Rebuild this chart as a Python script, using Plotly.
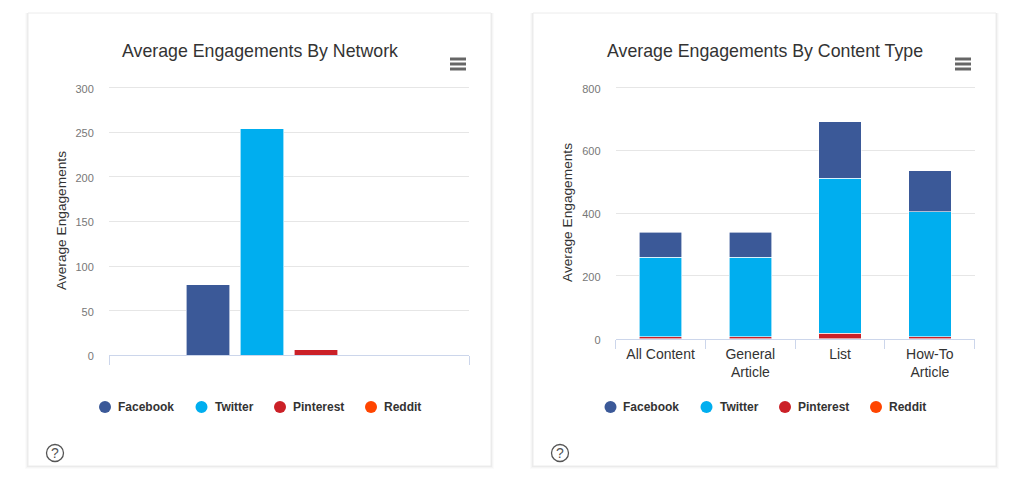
import plotly.graph_objects as go

W = 1024
H = 482

series_names = ["Facebook", "Twitter", "Pinterest", "Reddit"]
series_colors = ["#3b5998", "#00aeef", "#cb2027", "#ff4500"]

# left chart, one value per network
network_values = [79, 254, 6, 0]

# right chart, stacked by content type
content_types = ["All Content", "General<br>Article", "List", "How-To<br>Article"]
facebook_values = [79, 79, 181, 130]
twitter_values = [254, 254, 493, 399]
pinterest_values = [6, 6, 18, 6]
reddit_values = [0, 0, 0, 0]
content_values = [facebook_values, twitter_values, pinterest_values, reddit_values]

network_ticks = [-1.83, 4.83]
network_yticks = [0, 50, 100, 150, 200, 250, 300]
content_yticks = [0, 200, 400, 600, 800]

FONT = "Liberation Sans"


def px_x(x):
    return x / W


def px_y(y):
    return 1 - y / H


def box(x0, y0, x1, y1, **kw):
    return dict(type="rect", xref="paper", yref="paper", x0=px_x(x0), x1=px_x(x1),
                y0=px_y(y1), y1=px_y(y0), layer="below", **kw)


def circle(cx, cy, r, **kw):
    return dict(type="circle", xref="paper", yref="paper", x0=px_x(cx - r), x1=px_x(cx + r),
                y0=px_y(cy + r), y1=px_y(cy - r), **kw)


def text(x, y, s, size, color, anchor="left", bold=False, angle=0):
    return dict(xref="paper", yref="paper", x=px_x(x), y=px_y(y), text=f"<b>{s}</b>" if bold else s,
                showarrow=False, xanchor=anchor, yanchor="middle", textangle=angle,
                font=dict(family=FONT, size=size, color=color))


def card_decor(left, right, title, title_x, ytitle_x, ytitle_y, legend_dots, legend_texts):
    shapes = []
    annotations = []
    # soft shadow first, then the card on top
    for grow, alpha in [(3, 0.015), (2, 0.025), (1, 0.04)]:
        shapes.append(box(left - grow, 13, right + grow, 466 + grow,
                          fillcolor=f"rgba(0,0,0,{alpha})", line_width=0))
    shapes.append(box(left, 13, right, 466, fillcolor="white", line=dict(color="#ececec", width=1)))
    annotations.append(text(title_x, 51, title, 17.75, "#333333", anchor="center"))
    annotations.append(text(ytitle_x, ytitle_y, "Average Engagements", 13.7, "#333333", anchor="center", angle=-90))
    # menu icon
    for y in [59, 64, 69]:
        shapes.append(dict(type="line", xref="paper", yref="paper", x0=px_x(right - 41), x1=px_x(right - 25),
                           y0=px_y(y), y1=px_y(y), line=dict(color="#666666", width=3)))
    # help icon
    cx = left + 27
    shapes.append(circle(cx, 453, 8.5, line=dict(color="#555555", width=1.3)))
    annotations.append(text(cx, 453, "?", 14, "#555555", anchor="center"))
    # legend
    for name, color, dot, tx in zip(series_names, series_colors, legend_dots, legend_texts):
        shapes.append(circle(dot, 407, 6, fillcolor=color, line_width=0))
        annotations.append(text(tx, 407, name, 12, "#333333", bold=True))
    return shapes, annotations


fig = go.Figure()

# reversed so that the first series sits on top of the stack
for i in reversed(range(len(series_names))):
    fig.add_trace(go.Bar(x=[i], y=[network_values[i]], name=series_names[i], width=0.8,
                         marker=dict(color=series_colors[i], line=dict(color="white", width=0.6)),
                         xaxis="x", yaxis="y", showlegend=False))
    fig.add_trace(go.Bar(x=content_types, y=content_values[i], name=series_names[i], width=0.474,
                         marker=dict(color=series_colors[i], line=dict(color="white", width=0.6)),
                         xaxis="x2", yaxis="y2", showlegend=False))

shapes_l, ann_l = card_decor(28, 491, "Average Engagements By Network", 260, 62, 221,
                             [105, 201.5, 280, 371], [116, 212.5, 291, 382])
shapes_r, ann_r = card_decor(533, 996, "Average Engagements By Content Type", 765, 567, 213,
                             [610.5, 706.5, 785, 876], [621, 717.5, 796, 887])

axis_line = "#ccd6eb"
grid = "#e6e6e6"
tick_font = dict(family=FONT, size=11, color="#777777")

fig.update_layout(
    width=W,
    height=H,
    autosize=False,
    margin=dict(l=0, r=0, t=0, b=0),
    paper_bgcolor="white",
    plot_bgcolor="rgba(0,0,0,0)",
    barmode="stack",
    showlegend=False,
    font=dict(family=FONT),
    shapes=shapes_l + shapes_r,
    annotations=ann_l + ann_r,
    xaxis=dict(domain=[px_x(109), px_x(469)], range=network_ticks, tickmode="array", tickvals=network_ticks,
               ticktext=["", ""], ticks="outside", ticklen=9, tickcolor=axis_line, showline=True, linewidth=1.2,
               linecolor=axis_line, showgrid=False, zeroline=False, anchor="y", automargin=False),
    # ranges run past the top tick, plotly drops a gridline within 1px of the end
    yaxis=dict(domain=[px_y(355.3), px_y(85.0)], range=[0, 303], tickmode="array", tickvals=network_yticks,
               ticks="outside", ticklen=12, tickcolor="rgba(0,0,0,0)", tickfont=tick_font, gridcolor=grid,
               ticklabelshift=1, zeroline=False, showline=False, anchor="x", automargin=False),
    xaxis2=dict(domain=[px_x(615.7), px_x(974.7)], type="category", tickson="boundaries", ticks="outside",
                ticklen=9, tickcolor=axis_line, showline=True, linewidth=1.2, linecolor=axis_line, showgrid=False,
                zeroline=False, anchor="y2", tickangle=0, automargin=False, ticklabelstandoff=2,
                tickfont=dict(family=FONT, size=14, color="#333333")),
    yaxis2=dict(domain=[px_y(338.7), px_y(84.6)], range=[0, 810], tickmode="array", tickvals=content_yticks,
                ticks="outside", ticklen=12, tickcolor="rgba(0,0,0,0)", tickfont=tick_font, gridcolor=grid,
                ticklabelshift=1, zeroline=False, showline=False, anchor="x2", automargin=False),
)

fig.write_html("out.html", post_script="document.body.style.margin='0';", config={"displayModeBar": False})
